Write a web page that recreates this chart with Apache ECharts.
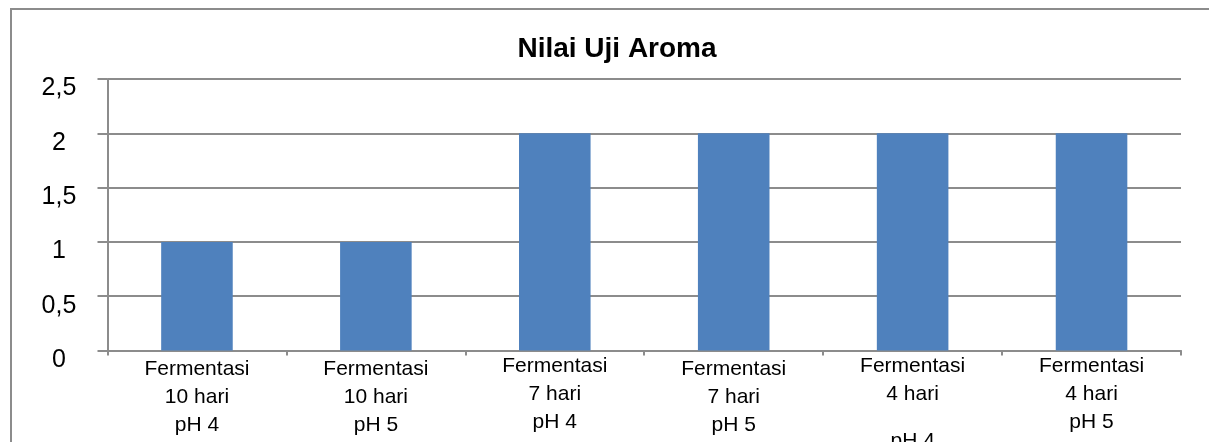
<!DOCTYPE html>
<html>
<head>
<meta charset="utf-8">
<script src="https://cdn.jsdelivr.net/npm/echarts@6/dist/echarts.min.js"></script>
<style>
html,body{margin:0;padding:0;background:#fff;}
#c{width:1209px;height:442px;}
</style>
</head>
<body>
<div id="c"></div>
<script>
const titleText = 'Nilai Uji Aroma';
const categories = [
  'Fermentasi\n10 hari\npH 4',
  'Fermentasi\n10 hari\npH 5',
  'Fermentasi\n7 hari\npH 4',
  'Fermentasi\n7 hari\npH 5',
  'Fermentasi\n4 hari\n\npH 4',
  'Fermentasi\n4 hari\npH 5'
];
const labelShift = [3, 3, 0, 3, 0, 0];
const values = [1, 1, 2, 2, 2, 2];
const yTickValues = [0, 0.5, 1, 1.5, 2, 2.5];
const yTickLabels = ['0', '0,5', '1', '1,5', '2', '2,5'];

const FONT = '"Liberation Sans", Arial, sans-serif';
const GRAY = '#8c8c8c';

const chart = echarts.init(document.getElementById('c'), null, {renderer: 'canvas'});
chart.setOption({
  animation: false,
  backgroundColor: '#fff',
  title: {
    text: titleText,
    left: 612,
    textAlign: 'center',
    top: 30,
    textStyle: {fontFamily: FONT, fontWeight: 'bold', fontSize: 28, color: '#000'}
  },
  graphic: [{
    type: 'rect',
    shape: {x: 11, y: 9, width: 1220, height: 500},
    style: {fill: 'none', stroke: GRAY, lineWidth: 2},
    silent: true,
    z: -1
  }],
  grid: {left: 107.5, right: 28, top: 79, bottom: 91.5, containLabel: false, outerBoundsMode: 'none'},
  xAxis: {
    type: 'category',
    data: categories.map((c, i) => ({value: c, textStyle: {padding: [labelShift[i], 0, 0, 0]}})),
    axisLine: {show: true, lineStyle: {color: GRAY, width: 2}},
    axisTick: {show: true, alignWithLabel: false, length: 5, lineStyle: {color: GRAY, width: 2}},
    axisLabel: {
      interval: 0,
      margin: 2,
      fontFamily: FONT,
      fontSize: 21,
      lineHeight: 28,
      color: '#000',
      formatter: function (v) {
        return v.split('\n').map(l => l ? '{n|' + l + '}' : '{g| }').join('\n');
      },
      rich: {
        n: {fontFamily: FONT, fontSize: 21, lineHeight: 28, color: '#000'},
        g: {fontFamily: FONT, fontSize: 10, lineHeight: 19, color: '#000'}
      }
    },
    splitLine: {show: false}
  },
  yAxis: {
    type: 'value',
    min: 0,
    max: 2.5,
    interval: 0.5,
    axisLine: {show: true, lineStyle: {color: GRAY, width: 2}},
    axisTick: {show: true, inside: false, length: 10, lineStyle: {color: GRAY, width: 2}},
    axisLabel: {
      margin: 48.5,
      align: 'center',
      verticalAlign: 'top',
      lineHeight: 19,
      fontFamily: FONT,
      fontSize: 25,
      color: '#000',
      formatter: function (v) {
        const i = yTickValues.findIndex(t => Math.abs(t - v) < 1e-9);
        return i >= 0 ? yTickLabels[i] : '';
      }
    },
    splitLine: {show: true, lineStyle: {color: GRAY, width: 2}}
  },
  series: [{
    type: 'bar',
    data: values,
    barWidth: '40%',
    itemStyle: {color: '#4F81BD'}
  }]
});
</script>
</body>
</html>
